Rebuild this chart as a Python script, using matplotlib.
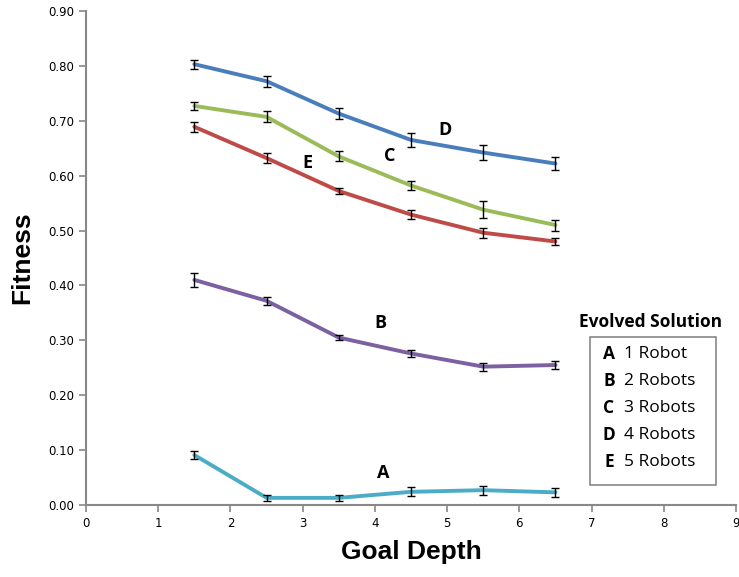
import matplotlib
matplotlib.use('Agg')
import matplotlib.pyplot as plt
from matplotlib.patches import Rectangle

depth = [1.5, 2.5, 3.5, 4.5, 5.5, 6.5]

fit_a = [0.091, 0.013, 0.013, 0.024, 0.027, 0.023]
err_a = [0.007, 0.006, 0.006, 0.008, 0.008, 0.008]
fit_b = [0.410, 0.372, 0.305, 0.276, 0.252, 0.255]
err_b = [0.012, 0.007, 0.005, 0.006, 0.007, 0.007]
fit_c = [0.727, 0.707, 0.635, 0.582, 0.538, 0.510]
err_c = [0.007, 0.010, 0.009, 0.009, 0.015, 0.010]
fit_d = [0.803, 0.772, 0.713, 0.665, 0.642, 0.622]
err_d = [0.008, 0.010, 0.010, 0.012, 0.013, 0.012]
fit_e = [0.689, 0.632, 0.572, 0.529, 0.496, 0.480]
err_e = [0.009, 0.009, 0.006, 0.008, 0.009, 0.007]

letters = ['A', 'B', 'C', 'D', 'E']
names = ['1 Robot', '2 Robots', '3 Robots', '4 Robots', '5 Robots']
label_pos = [(4.11, 0.058), (4.07, 0.331), (4.21, 0.636), (4.97, 0.683), (3.07, 0.623)]

series = [
    (fit_a, err_a, '#4bacc6'),
    (fit_b, err_b, '#7d60a0'),
    (fit_c, err_c, '#9bbb59'),
    (fit_d, err_d, '#4a7ebb'),
    (fit_e, err_e, '#be4b48'),
]

fig = plt.figure(figsize=(7.39, 5.77), dpi=100)
ax = fig.add_axes([0.1164, 0.1248, 0.8796, 0.8562])

for (y, e, col) in series:
    ax.plot(depth, y, color=col, lw=2.8, solid_capstyle='round', zorder=2)
    ax.errorbar(depth, y, yerr=e, fmt='none', ecolor='black', elinewidth=1,
                capsize=3, capthick=1, zorder=3)

for lt, (x, y) in zip(letters, label_pos):
    ax.text(x, y, lt, ha='center', va='center', fontsize=13, fontweight='bold',
            family='Open Sans')

ax.set_xlim(0, 9)
ax.set_ylim(0, 0.9)
ax.set_xticks(range(0, 10))
ax.set_yticks([i / 10 for i in range(10)])
ax.set_yticklabels(['%.2f' % (i / 10) for i in range(10)])
for s in ['top', 'right']:
    ax.spines[s].set_visible(False)
for s in ['left', 'bottom']:
    ax.spines[s].set_color('#888888')
    ax.spines[s].set_linewidth(1.5)
ax.tick_params(colors='#888888', labelcolor='black', labelsize=8.5, length=5, width=1.2)

ax.set_xlabel('Goal Depth', fontsize=19, fontweight='bold', family='Liberation Sans', labelpad=7)
ax.set_ylabel('Fitness', fontsize=19, fontweight='bold', family='Liberation Sans', labelpad=10)

# legend drawn by hand
W, H = 739.0, 577.0
fig.text(651 / W, 1 - 322 / H, 'Evolved Solution', ha='center', va='center',
         fontsize=12.5, fontweight='bold', family='Open Sans')
fig.patches.append(Rectangle((590 / W, 1 - 485 / H), 126 / W, 148 / H,
                             transform=fig.transFigure, fill=False,
                             edgecolor='#888888', lw=1.2))
for i, (lt, nm) in enumerate(zip(letters, names)):
    yy = 1 - (354 + i * 27) / H
    fig.text(609 / W, yy, lt, ha='center', va='center', fontsize=12.5,
             fontweight='bold', family='Open Sans')
    fig.text(624 / W, yy, nm, ha='left', va='center', fontsize=12.5, family='Open Sans')

fig.savefig('out.png', dpi=100)
